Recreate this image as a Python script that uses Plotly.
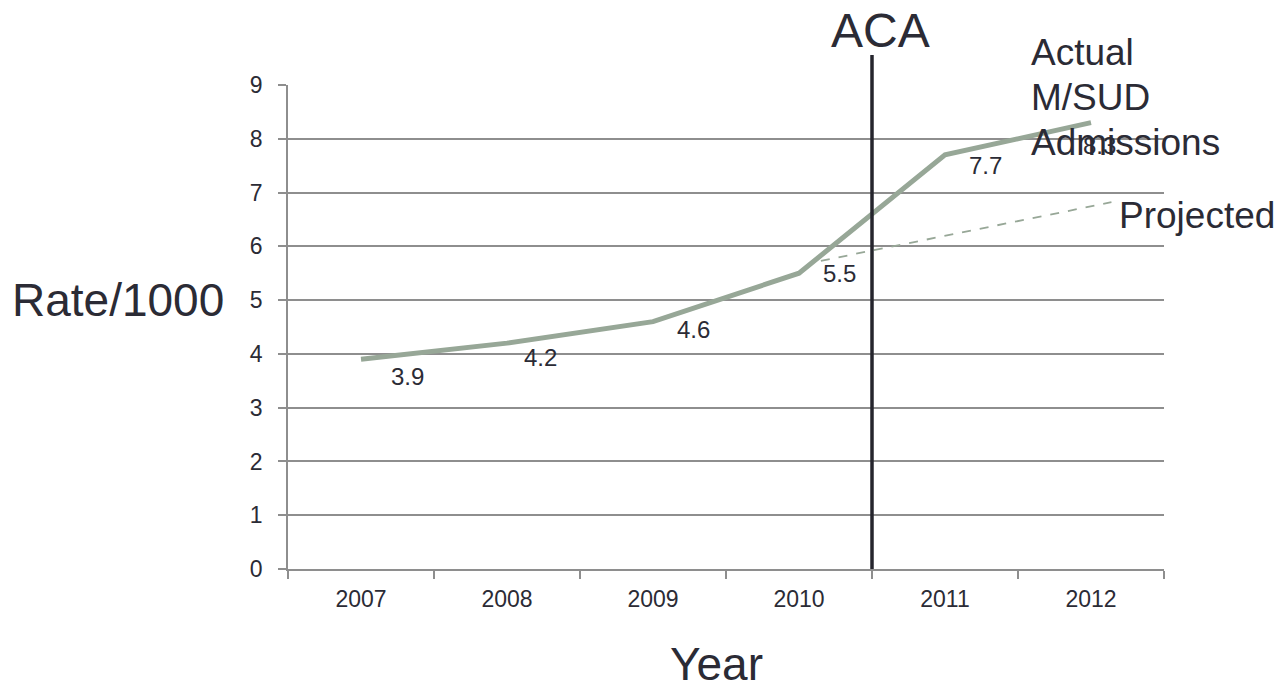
import plotly.graph_objects as go

# ---- data ----
years = ["2007", "2008", "2009", "2010", "2011", "2012"]
actual = [3.9, 4.2, 4.6, 5.5, 7.7, 8.3]
value_labels = ["3.9", "4.2", "4.6", "5.5", "7.7", "8.3"]
projected_x = [3.15, 5.14]          # category-index positions of the dashed trend
projected_y = [5.73, 6.82]
aca_position = 3.5                  # between 2010 and 2011
y_tick_values = [0, 1, 2, 3, 4, 5, 6, 7, 8, 9]

# ---- layout / style ----
W, H = 1278, 691
L, R, T, B = 288, 114, 85, 122
PW, PH = W - L - R, H - T - B
FONT = "Liberation Sans, Arial, sans-serif"
TXT = "#2b2b35"
GRID = "#8e8e8e"
LINE = "#97a797"

def px(xpix):
    return (xpix - L) / PW

def py(ypix):
    return (H - B - ypix) / PH

# label offsets (pixels right / down) for the data labels
label_dx = [46, 33, 40, 40, 40, 8]
label_dy = [17, 14, 8, 0, 11, 23]

xpos = list(range(len(years)))
xr = [-0.5, len(years) - 0.5]

fig = go.Figure()
fig.add_trace(go.Scatter(
    x=projected_x, y=projected_y, mode="lines",
    line=dict(color=LINE, width=1.8, dash="dash"),
    hoverinfo="skip", showlegend=False))
fig.add_trace(go.Scatter(
    x=xpos, y=actual, mode="lines",
    line=dict(color=LINE, width=5),
    showlegend=False))

annotations = []
for i, (v, t) in enumerate(zip(actual, value_labels)):
    annotations.append(dict(
        x=xpos[i], y=v, xref="x", yref="y", text=t, showarrow=False,
        xshift=label_dx[i], yshift=-label_dy[i],
        font=dict(family=FONT, size=24, color=TXT)))

def txt(text, x, y, size, xanchor="left"):
    annotations.append(dict(
        x=x, y=y, xref="paper", yref="paper", text=text, showarrow=False,
        xanchor=xanchor, yanchor="middle",
        font=dict(family=FONT, size=size, color=TXT)))

txt("ACA", px(880), py(30), 48, "center")
txt("Actual", px(1029), py(52), 37)
txt("M/SUD", px(1029), py(97), 37)
txt("Admissions", px(1029), py(142), 37)
txt("Projected", px(1117), py(215), 37)
txt("Rate/1000", px(10), py(300), 46)
txt("Year", px(716), py(664), 46, "center")

aca_dom = (aca_position - xr[0]) / (xr[1] - xr[0])
fig.add_shape(type="line", xref="x domain", yref="paper",
              x0=aca_dom, x1=aca_dom, y0=0, y1=py(55),
              line=dict(color="#25252d", width=3.5))

fig.update_layout(
    width=W, height=H,
    margin=dict(l=L, r=R, t=T, b=B, pad=0),
    paper_bgcolor="white", plot_bgcolor="white",
    font=dict(family=FONT, color=TXT),
    annotations=annotations,
    showlegend=False,
    xaxis=dict(
        range=xr, tickmode="array", tickvals=xpos, ticktext=years,
        ticks="", showgrid=False, zeroline=False,
        showline=True, linecolor=GRID, linewidth=1.5,
        tickfont=dict(family=FONT, size=23, color=TXT),
        ticklabelstandoff=9,
        minor=dict(tickmode="array",
                   tickvals=[p - 0.5 for p in xpos] + [xpos[-1] + 0.5],
                   ticks="outside", ticklen=8, tickcolor=GRID, tickwidth=1.5,
                   showgrid=False),
    ),
    yaxis=dict(
        range=[0, 9], tickmode="array", tickvals=y_tick_values,
        ticks="outside", ticklen=8, tickcolor=GRID, tickwidth=1.5,
        showgrid=True, gridcolor=GRID, gridwidth=1.5, zeroline=False,
        showline=True, linecolor=GRID, linewidth=1.5,
        tickfont=dict(family=FONT, size=23, color=TXT),
        ticklabelstandoff=11,
    ),
)

fig.write_html("out.html")
